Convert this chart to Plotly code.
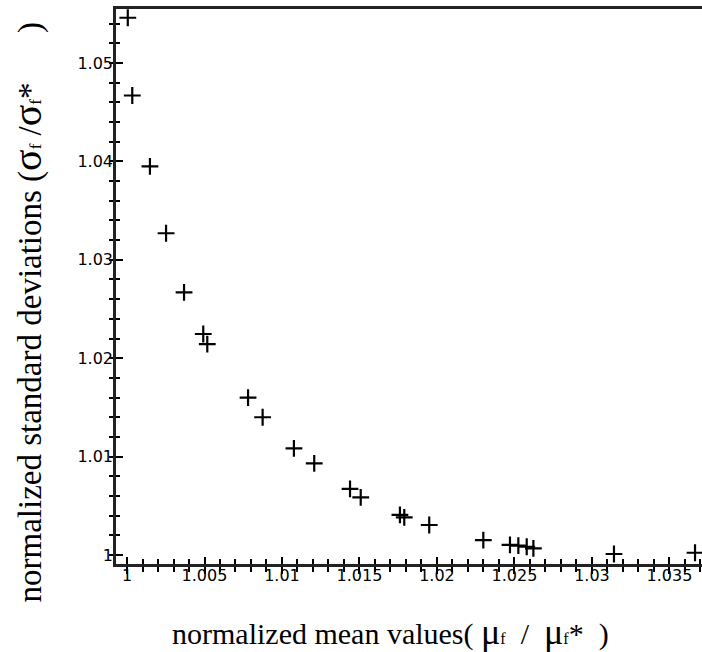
import plotly.graph_objects as go

# data
mu_norm = [1.00005, 1.00034, 1.00148, 1.00252, 1.00368, 1.00492, 1.00518,
           1.00781, 1.00875, 1.01077, 1.01208, 1.01439, 1.01508, 1.01761,
           1.01789, 1.01950, 1.02299, 1.02471, 1.02525, 1.02579, 1.02622,
           1.03142, 1.03665]
sigma_norm = [1.0546, 1.0467, 1.0395, 1.0327, 1.0267, 1.02246, 1.02144,
              1.0160, 1.0140, 1.01084, 1.00932, 1.00671, 1.00586, 1.00407,
              1.00383, 1.00305, 1.00152, 1.00102, 1.00095, 1.00084, 1.00068,
              1.0001, 1.00023]

x_tickvals = [1.0, 1.005, 1.01, 1.015, 1.02, 1.025, 1.03, 1.035]
x_ticktext = ["1", "1.005", "1.01", "1.015", "1.02", "1.025", "1.03", "1.035"]
y_tickvals = [1.0, 1.01, 1.02, 1.03, 1.04, 1.05]
y_ticktext = ["1", "1.01", "1.02", "1.03", "1.04", "1.05"]

x_range = [0.99929, 1.03710]
y_range = [0.999085, 1.05549]

tick_font = dict(family="DejaVu Sans", size=16, color="black")

W, H = 702, 652
L, R, T, B = 116, 0, 9, 88
PW, PH = W - L - R, H - T - B

fig = go.Figure()
fig.add_trace(go.Scatter(
    x=mu_norm, y=sigma_norm, mode="markers",
    marker=dict(symbol="cross-thin-open", size=12, color="black",
                line=dict(color="black", width=2.2)),
    showlegend=False, hoverinfo="skip", cliponaxis=False))
# invisible trace to activate the overlay axes (inner halves of the ticks)
fig.add_trace(go.Scatter(x=[x_range[0]], y=[y_range[0]], xaxis="x2", yaxis="y2",
                         mode="markers", marker=dict(opacity=0), showlegend=False,
                         hoverinfo="skip"))

fig.update_layout(
    width=W, height=H,
    margin=dict(l=L, r=R, t=T, b=B, autoexpand=False),
    plot_bgcolor="white", paper_bgcolor="white",
    xaxis=dict(range=x_range, showgrid=False, zeroline=False, automargin=False,
               showline=True, linewidth=2.5, linecolor="#222", mirror=True,
               tickmode="array", tickvals=x_tickvals, ticktext=x_ticktext,
               ticks="outside", ticklen=7, tickwidth=2, tickcolor="black",
               minor=dict(dtick=0.001, tick0=1.0, ticks="outside", ticklen=5,
                          tickwidth=2, tickcolor="black"),
               ticklabelstandoff=-12, tickfont=tick_font),
    yaxis=dict(range=y_range, showgrid=False, zeroline=False, automargin=False,
               showline=True, linewidth=2.5, linecolor="#222",
               tickmode="array", tickvals=y_tickvals, ticktext=y_ticktext,
               ticks="outside", ticklen=4, tickwidth=2, tickcolor="black",
               minor=dict(dtick=0.002, tick0=1.0, ticks="outside", ticklen=4,
                          tickwidth=2, tickcolor="black"),
               ticklabelstandoff=-7, tickfont=tick_font),
    xaxis2=dict(range=x_range, overlaying="x", anchor="y", showgrid=False,
                zeroline=False, showline=False, showticklabels=False,
                tickmode="array", tickvals=x_tickvals,
                ticks="inside", ticklen=7, tickwidth=2, tickcolor="black",
                minor=dict(dtick=0.001, tick0=1.0, ticks="inside", ticklen=5,
                           tickwidth=2, tickcolor="black")),
    yaxis2=dict(range=y_range, overlaying="y", anchor="x", showgrid=False,
                zeroline=False, showline=False, showticklabels=False,
                tickmode="array", tickvals=y_tickvals,
                ticks="inside", ticklen=7, tickwidth=2, tickcolor="black",
                minor=dict(dtick=0.002, tick0=1.0, ticks="inside", ticklen=4,
                           tickwidth=2, tickcolor="black")),
)

serif = "Liberation Serif"
xlabel = ("normalized mean values( <span style='font-size:36px'>μ</span>"
          "<span style='font-size:16px'>f</span>  /  "
          "<span style='font-size:36px'>μ</span>"
          "<span style='font-size:16px'>f</span>*  )")
ylabel = ("normalized standard deviations (<span style='font-size:40px'>σ</span>"
          "<span style='font-size:17px'>f</span> /"
          "<span style='font-size:40px'>σ</span>"
          "<span style='font-size:17px'>f</span>*      )")

fig.add_annotation(text=xlabel, xref="paper", yref="paper",
                   x=(170 - L) / PW, y=(PH + T - 632) / PH,
                   showarrow=False, xanchor="left", yanchor="middle",
                   font=dict(family=serif, size=30, color="black"))
fig.add_annotation(text=ylabel, xref="paper", yref="paper",
                   x=(27 - L) / PW, y=(PH + T - 605) / PH, textangle=-90,
                   showarrow=False, xanchor="center", yanchor="bottom",
                   font=dict(family=serif, size=33, color="black"))

fig.write_html("out.html", config={"displayModeBar": False},
               post_script="document.body.style.margin='0';"
                           "document.body.style.overflow='hidden';")
